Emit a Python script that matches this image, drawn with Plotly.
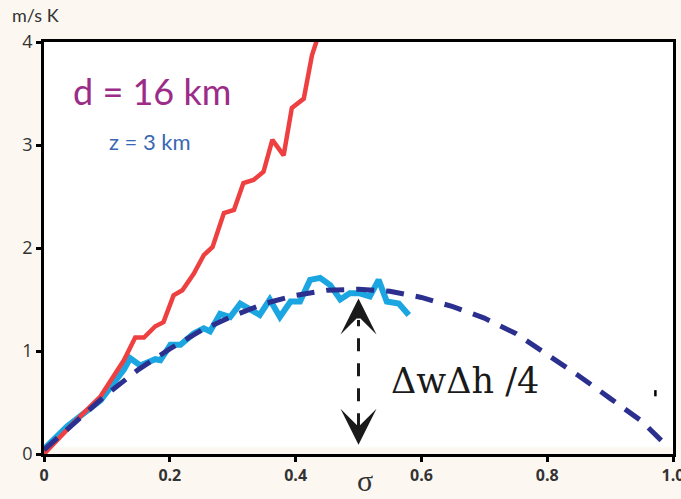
import plotly.graph_objects as go

# ---- data ----
sigma_red = [0.0, 0.045, 0.090, 0.127, 0.145, 0.159, 0.177, 0.190, 0.206, 0.220, 0.238,
             0.254, 0.268, 0.286, 0.302, 0.317, 0.333, 0.349, 0.363, 0.381, 0.394,
             0.413, 0.426, 0.434]
w_red = [0.0, 0.29, 0.56, 0.91, 1.13, 1.13, 1.24, 1.28, 1.54, 1.59, 1.75,
         1.93, 2.01, 2.34, 2.37, 2.63, 2.66, 2.74, 3.05, 2.90, 3.36,
         3.45, 3.87, 4.02]

sigma_cyan = [0.0, 0.037, 0.090, 0.127, 0.137, 0.153, 0.177, 0.185, 0.201, 0.217,
              0.238, 0.254, 0.264, 0.280, 0.296, 0.312, 0.343, 0.359, 0.375, 0.392,
              0.407, 0.423, 0.439, 0.455, 0.471, 0.486, 0.502, 0.518, 0.532, 0.545,
              0.564, 0.580]
w_cyan = [0.05, 0.27, 0.52, 0.82, 0.93, 0.86, 0.92, 0.91, 1.06, 1.06,
          1.17, 1.22, 1.19, 1.36, 1.33, 1.46, 1.35, 1.50, 1.33, 1.48,
          1.48, 1.69, 1.71, 1.64, 1.50, 1.56, 1.56, 1.53, 1.69, 1.48,
          1.46, 1.35]

sigma_fit = [0.0, 0.05, 0.10, 0.15, 0.20, 0.25, 0.30, 0.35, 0.40, 0.45, 0.50,
             0.55, 0.60, 0.65, 0.70, 0.75, 0.80, 0.85, 0.90, 0.95, 0.99]
w_fit = [0.04, 0.31, 0.58, 0.82, 1.02, 1.20, 1.34, 1.46, 1.54, 1.59, 1.60,
         1.58, 1.52, 1.43, 1.32, 1.17, 0.97, 0.76, 0.54, 0.32, 0.08]

x_ticks = [0, 0.2, 0.4, 0.6, 0.8, 1.0]
x_ticktext = ["0", "0.2", "0.4", "0.6", "0.8", "1.0"]
y_ticks = [0, 1, 2, 3, 4]
y_ticktext = ["0", "1", "2", "3", "4"]

CREAM = "#fcf8f1"
RED = "#ee4040"
CYAN = "#1ba6e1"
NAVY = "#2b2f8e"
TICKCOL = "#333333"

fig = go.Figure()
fig.add_trace(go.Scatter(x=sigma_cyan, y=w_cyan, mode="lines",
                         line=dict(color=CYAN, width=6), hoverinfo="skip"))
fig.add_trace(go.Scatter(x=sigma_red, y=w_red, mode="lines",
                         line=dict(color=RED, width=4.5), hoverinfo="skip"))
fig.add_trace(go.Scatter(x=sigma_fit, y=w_fit, mode="lines",
                         line=dict(color=NAVY, width=5, dash="18px,12px"),
                         hoverinfo="skip"))

axis_common = dict(showline=True, linecolor="black", linewidth=2.5, mirror=True,
                   ticks="outside", ticklen=5, tickwidth=2.5, tickcolor="black",
                   showgrid=False, zeroline=False, ticklabeloverflow="allow",
                   automargin=False)

fig.update_layout(
    width=681, height=499,
    margin=dict(l=44, r=8, t=42, b=45),
    paper_bgcolor=CREAM, plot_bgcolor=CREAM,
    showlegend=False,
    xaxis=dict(range=[0, 1], tickvals=x_ticks, ticktext=x_ticktext,
               tickfont=dict(family="Open Sans", size=16, color=TICKCOL, weight="bold"),
               **axis_common),
    yaxis=dict(range=[0, 4], tickvals=y_ticks, ticktext=y_ticktext,
               tickfont=dict(family="Open Sans", size=18, color=TICKCOL),
               **axis_common),
    shapes=[
        dict(type="rect", xref="x", yref="y", x0=0, x1=1, y0=0.065, y1=4,
             fillcolor="white", line=dict(width=0), layer="below"),
        dict(type="line", xref="x", yref="y", x0=0.5, x1=0.5, y0=0.27, y1=1.30,
             line=dict(color="#1a1a1a", width=3, dash="13px,12px")),
        dict(type="line", xref="x", yref="y", x0=0.972, x1=0.972, y0=0.56, y1=0.62,
             line=dict(color="black", width=2.5)),
    ],
    annotations=[
        dict(text="m/s K", xref="paper", yref="paper", x=-0.054, y=1.066,
             xanchor="left", yanchor="middle", showarrow=False,
             font=dict(family="Lato", size=18, color=TICKCOL)),
        dict(text="σ", xref="paper", yref="paper", x=0.51, y=-0.065,
             xanchor="center", yanchor="middle", showarrow=False,
             font=dict(family="Liberation Serif", size=30, color=TICKCOL)),
        dict(text="d = 16 km", xref="x", yref="y", x=0.172, y=3.52,
             xanchor="center", yanchor="middle", showarrow=False,
             font=dict(family="Lato", size=36, color="#9b2c87")),
        dict(text="z = 3 km", xref="x", yref="y", x=0.168, y=3.03,
             xanchor="center", yanchor="middle", showarrow=False,
             font=dict(family="Lato", size=22, color="#3a67b4")),
        dict(text="ΔwΔh /4", xref="x", yref="y", x=0.670, y=0.71,
             xanchor="center", yanchor="middle", showarrow=False,
             font=dict(family="DejaVu Serif", size=35, color="#1a1a1a")),
        dict(text="", xref="x", yref="y", x=0.5, y=1.51, axref="x", ayref="y",
             ax=0.5, ay=1.30, showarrow=True, arrowhead=3, arrowwidth=3,
             arrowsize=2.0, arrowcolor="#1a1a1a"),
        dict(text="", xref="x", yref="y", x=0.5, y=0.09, axref="x", ayref="y",
             ax=0.5, ay=0.28, showarrow=True, arrowhead=3, arrowwidth=3,
             arrowsize=2.0, arrowcolor="#1a1a1a"),
    ],
)

fig.write_html("out.html")
